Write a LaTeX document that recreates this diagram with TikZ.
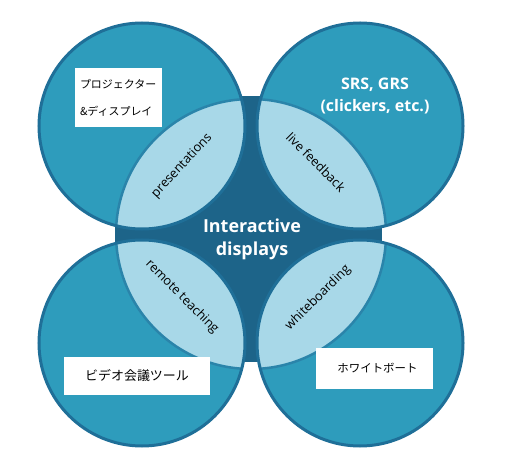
\documentclass[tikz,border=0pt]{standalone}
\usepackage{fontspec}
\setsansfont{Open Sans}
\newfontfamily\jpfont{Noto Sans CJK JP}
\usepackage{tikz}
\usetikzlibrary{positioning}
\definecolor{squarefill}{HTML}{1D6489}
\definecolor{ringfill}{HTML}{2E9CBC}
\definecolor{ringedge}{HTML}{1F6F98}
\definecolor{lensfill}{HTML}{A8D8E8}
\definecolor{lensedge}{HTML}{2A84AA}
\tikzset{
  ring/.style = {circle, fill = ringfill, minimum size = 206bp, inner sep = 0},
  lens_text/.style = {font = \sffamily\fontsize{12.8}{14}\selectfont, text = black, inner sep = 0},
  head_text/.style = {font = \sffamily\bfseries\fontsize{16}{22}\selectfont, text = white, align = center, inner sep = 0},
  jp_box/.style = {fill = white, text = black, inner sep = 0}
}

\begin{document}
\begin{tikzpicture}[x = 1bp, y = -1bp]
\useasboundingbox (0,0) rectangle (515,476);
\fill[squarefill] (115,96) rectangle (382,362);
\node[ring] (circ_tl) at (142,126) {};
\node[ring] (circ_tr) at (360,126) {};
\node[ring] (circ_bl) at (142,343) {};
\node[ring] (circ_br) at (360,343) {};
\coordinate (mid) at (251,234);
\foreach \c in {circ_tl, circ_tr, circ_bl, circ_br} {
  \begin{scope}
    \clip (\c) circle (103bp);
    \fill[lensfill] (mid) circle (135bp);
    \draw[lensedge, line width = 2.5bp] (mid) circle (135bp);
  \end{scope}
  \draw[ringedge, line width = 3bp] (\c) circle (103bp);
}
% lens labels
\node[lens_text, rotate = 47] (lens_tl) at (182,166) {presentations};
\node[lens_text, rotate = -45] (lens_tr) at (316,162) {live feedback};
\node[lens_text, rotate = -45] (lens_bl) at (182,297) {remote teaching};
\node[lens_text, rotate = 45] (lens_br) at (318,298) {whiteboarding};
% centre and top right
\node[head_text, font = \sffamily\bfseries\fontsize{18}{23}\selectfont] (centre) at (252,239) {Interactive\\displays};
\node[head_text] (srs) at (375,96) {SRS, GRS\\(clickers, etc.)};
% japanese boxes
\node[jp_box, minimum width = 87bp, minimum height = 59bp, align = left, text width = 77bp,
  font = \jpfont\fontsize{11}{27}\selectfont] (box_tl) at (118.5,97.5) {プロジェクター\\\&ディスプレイ};
\node[jp_box, minimum width = 146bp, minimum height = 38bp, font = \jpfont\fontsize{13}{15}\selectfont] (box_bl) at (137,376) {ビデオ会議ツール};
\node[jp_box, minimum width = 117bp, minimum height = 41bp, font = \jpfont\fontsize{11.5}{14}\selectfont] (box_br) at (374.5,368.5) {\hspace{6bp}ホワイトボート};
\end{tikzpicture}
\end{document}
